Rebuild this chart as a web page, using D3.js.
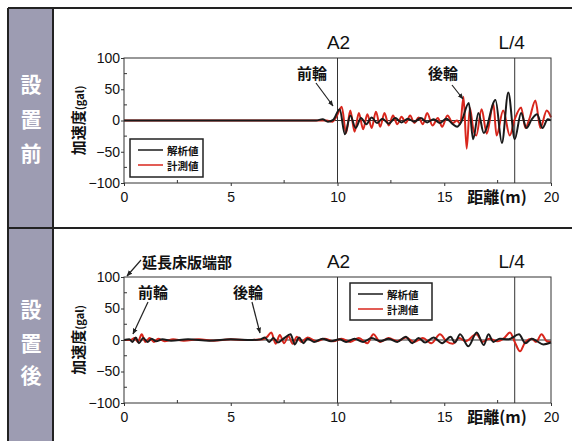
<!DOCTYPE html>
<html>
<head>
<meta charset="utf-8">
<script src="https://cdn.jsdelivr.net/npm/d3@7"></script>
<style>
  body { margin: 0; background: #fff; }
  svg { display: block; }
  .tick text { font-family: "Liberation Sans", Arial, sans-serif; font-size: 14px; fill: #111; }
  .jp { font-family: "Noto Sans CJK JP", sans-serif; font-weight: bold; fill: #111; }
  .lbl { font-family: "Liberation Sans", Arial, sans-serif; fill: #111; }
</style>
</head>
<body>
<svg id="chart" width="572" height="441"></svg>
<script>
// x ticks, y ticks
var xTicks = [0, 5, 10, 15, 20];
var yTicks = [-100, -50, 0, 50, 100];
var markers = [{ x: 10, name: "A2" }, { x: 18.3, name: "L/4" }];
var seriesNames = ["解析値", "計測値"];

// 設置前 : [distance m, accel gal]
var beforeAnalysis = [[0,0],[9.0,0],[9.3,2],[9.55,-2],[9.8,1],[10.1,18],[10.35,-22],[10.6,8],[10.85,-12],[11.1,4],
  [11.35,-6],[11.6,5],[11.85,-4],[12.1,3],[12.4,-5],[12.7,4],[13.0,-3],[13.3,3],[13.6,-2],[13.9,4],[14.2,-3],
  [14.5,2],[14.8,-4],[15.1,3],[15.4,-6],[15.6,-10],[15.8,-2],[16.15,28],[16.35,-30],[16.6,12],[16.85,-20],
  [17.4,33],[17.7,-36],[18.0,45],[18.3,-30],[18.6,12],[18.85,-12],[19.1,2],[19.35,10],[19.6,-12],[19.85,2],[20,0]];
var beforeMeasured = [[0,0],[9.5,0],[9.75,-2],[9.95,6],[10.2,22],[10.4,-20],[10.6,16],[10.8,-18],[11.0,12],[11.2,-14],
  [11.4,10],[11.6,-12],[11.8,14],[12.0,-10],[12.2,12],[12.4,-8],[12.6,8],[12.8,-6],[13.0,6],[13.2,-4],[13.4,8],
  [13.6,-4],[13.8,5],[14.0,-6],[14.2,12],[14.45,-8],[14.7,4],[14.9,-10],[15.15,8],[15.4,-4],[15.6,0],[15.75,-6],
  [15.9,38],[16.05,-45],[16.2,20],[16.36,-14],[16.5,-24],[16.75,18],[16.99,-21],[17.3,27],[17.45,-24],[17.76,16],
  [18.07,-24],[18.3,2],[18.6,21],[18.8,-12],[19.0,4],[19.27,32],[19.5,-12],[19.8,16],[20,5]];

// 設置後
var afterAnalysis = [[0,0],[0.25,1],[0.4,-3],[0.55,4],[0.7,-5],[0.9,3],[1.1,-3],[1.3,2],[1.5,-2],[1.8,1],[2.2,-1],
  [3,1],[4,-1],[5,1],[6,0],[6.4,1],[6.6,4],[6.8,-3],[7.0,3],[7.2,-4],[7.5,3],[7.8,9],[8.0,-7],[8.2,4],[8.4,-5],
  [8.6,2],[8.9,-3],[9.3,2],[9.7,-2],[10.1,1],[10.4,-3],[10.8,2],[11.2,-3],[11.6,3],[12.0,-2],[12.4,2],[12.8,-3],
  [13.2,5],[13.5,-5],[13.8,3],[14.1,-4],[14.5,4],[14.9,-5],[15.3,5],[15.5,-4],[15.74,9],[16.13,-10],[16.52,12],
  [16.85,-8],[17.07,9],[17.3,-3],[17.6,2],[18.0,1],[18.5,9],[18.8,-5],[19.1,2],[19.3,-1],[19.64,-7],[20,-4]];
var afterMeasured = [[0,0],[0.3,0],[0.5,3],[0.65,-3],[0.83,9],[1.0,-3],[1.2,3],[1.4,-3],[1.6,2],[1.9,-2],[2.3,1],
  [2.8,-1],[3.5,1],[4.2,-1],[5,1],[5.8,0],[6.5,1],[6.7,5],[6.9,12],[7.1,-6],[7.3,8],[7.5,-5],[7.7,6],[7.9,-6],
  [8.1,5],[8.3,-3],[8.6,4],[9.0,-2],[9.4,2],[9.8,-2],[10.2,2],[10.6,-3],[11.0,3],[11.4,-5],[11.68,9],[12.0,-3],
  [12.4,3],[12.8,-2],[13.2,4],[13.6,-3],[14.0,3],[14.4,-5],[14.8,9],[15.1,-2],[15.4,-6],[15.7,3],[16.0,-2],
  [16.5,9],[16.8,-3],[17.1,2],[17.5,-2],[17.8,3],[18.08,12],[18.3,-3],[18.55,-18],[18.8,-3],[19.1,2],[19.3,-3],
  [19.56,9],[19.8,-2],[20,-3]];

var svg = d3.select("#chart");
var RED = "#d8261c", BLACK = "#1a1a1a";

// frame and side band
svg.append("rect").attr("x", 8).attr("y", 8).attr("width", 45).attr("height", 440).attr("fill", "#9d9cb2");
svg.append("line").attr("x1", 8).attr("x2", 572).attr("y1", 8).attr("y2", 8).attr("stroke", "#222").attr("stroke-width", 2);
svg.append("line").attr("x1", 8).attr("x2", 572).attr("y1", 228).attr("y2", 228).attr("stroke", "#222").attr("stroke-width", 2);
svg.append("line").attr("x1", 8).attr("x2", 8).attr("y1", 8).attr("y2", 441).attr("stroke", "#222").attr("stroke-width", 2);
svg.append("line").attr("x1", 53).attr("x2", 53).attr("y1", 8).attr("y2", 441).attr("stroke", "#222").attr("stroke-width", 2);

function sideLabel(chars, ys) {
  chars.forEach(function(c, i) {
    svg.append("text").attr("class", "jp").attr("x", 31).attr("y", ys[i])
      .attr("text-anchor", "middle").attr("dominant-baseline", "central")
      .style("font-size", "21px").style("fill", "#fff").text(c);
  });
}
sideLabel(["設", "置", "前"], [83, 118, 152]);
sideLabel(["設", "置", "後"], [308, 342, 374]);

var arrow = svg.append("defs").append("marker").attr("id", "arr").attr("viewBox", "0 0 10 10")
  .attr("refX", 9).attr("refY", 5).attr("markerWidth", 5).attr("markerHeight", 5).attr("orient", "auto");
arrow.append("path").attr("d", "M0,1 L10,5 L0,9 Z").attr("fill", "#222");

function drawPanel(p) {
  var x = d3.scaleLinear().domain([0, 20]).range([124, 551]);
  var y = d3.scaleLinear().domain([-100, 100]).range([p.bottom, p.top]);
  var g = svg.append("g");

  // minor ticks (inside)
  d3.range(2.5, 20, 5).forEach(function(v) {
    g.append("line").attr("x1", x(v)).attr("x2", x(v)).attr("y1", p.bottom).attr("y2", p.bottom - 3).attr("stroke", "#333");
  });
  d3.range(-75, 100, 50).forEach(function(v) {
    g.append("line").attr("x1", 124).attr("x2", 127).attr("y1", y(v)).attr("y2", y(v)).attr("stroke", "#333");
  });

  g.append("g").attr("transform", "translate(0," + p.bottom + ")")
    .call(d3.axisBottom(x).tickValues(xTicks).tickSize(3).tickPadding(6))
    .call(function(a) { a.select(".domain").remove(); a.selectAll("line").attr("stroke", "#333"); });
  g.append("g").attr("transform", "translate(124,0)")
    .call(d3.axisLeft(y).tickValues(yTicks).tickSize(3).tickPadding(1).tickFormat(function(d) { return d < 0 ? "\u2212" + (-d) : d; }))
    .call(function(a) { a.select(".domain").remove(); a.selectAll("line").attr("stroke", "#333"); });

  // zero line and markers
  g.append("line").attr("x1", x(0)).attr("x2", x(20)).attr("y1", y(0)).attr("y2", y(0)).attr("stroke", "#333").attr("stroke-width", 1);
  markers.forEach(function(m) {
    g.append("line").attr("x1", x(m.x)).attr("x2", x(m.x)).attr("y1", y(-100)).attr("y2", y(100)).attr("stroke", "#333").attr("stroke-width", 1);
    g.append("text").attr("class", "lbl").attr("x", x(m.x) + (m.name === "A2" ? 1 : -3)).attr("y", p.top - 9)
      .attr("text-anchor", "middle").style("font-size", "19px").text(m.name);
  });

  var line = d3.line().x(function(d) { return x(d[0]); }).y(function(d) { return y(d[1]); }).curve(d3.curveMonotoneX);
  g.append("path").datum(p.measured).attr("d", line).attr("fill", "none").attr("stroke", RED).attr("stroke-width", 2);
  g.append("path").datum(p.analysis).attr("d", line).attr("fill", "none").attr("stroke", BLACK).attr("stroke-width", 2);

  // plot box
  g.append("rect").attr("x", 124).attr("y", p.top).attr("width", 427).attr("height", p.bottom - p.top)
    .attr("fill", "none").attr("stroke", "#333").attr("stroke-width", 1);

  // axis titles
  g.append("text").attr("class", "jp").attr("x", 497).attr("y", p.bottom + 20)
    .attr("text-anchor", "middle").style("font-size", "16px").text("距離(m)");
  var yl = g.append("text").attr("class", "jp")
    .attr("transform", "translate(84," + (p.top + p.bottom) / 2 + ") rotate(-90)")
    .attr("text-anchor", "middle").style("font-size", "15px");
  yl.append("tspan").text("加速度");
  yl.append("tspan").style("font-size", "11px").text("(gal)");

  // legend
  var L = p.legend;
  g.append("rect").attr("x", L.x).attr("y", L.y).attr("width", L.w).attr("height", L.h)
    .attr("fill", "#fff").attr("stroke", "#222").attr("stroke-width", 1.5);
  [BLACK, RED].forEach(function(c, i) {
    var ly = L.y + 11 + i * 15;
    g.append("line").attr("x1", L.x + 8).attr("x2", L.x + 33).attr("y1", ly).attr("y2", ly).attr("stroke", c).attr("stroke-width", 1.5);
    g.append("text").attr("class", "jp").attr("x", L.x + 37).attr("y", ly).attr("dominant-baseline", "central")
      .style("font-size", "10.5px").text(seriesNames[i]);
  });

  // annotations
  p.notes.forEach(function(n) {
    g.append("text").attr("class", "jp").attr("x", n.tx).attr("y", n.ty).attr("text-anchor", n.anchor || "middle")
      .attr("dominant-baseline", "central").style("font-size", "15px").text(n.text);
    g.append("line").attr("x1", n.x1).attr("y1", n.y1).attr("x2", n.x2).attr("y2", n.y2)
      .attr("stroke", "#222").attr("stroke-width", 1.2).attr("marker-end", "url(#arr)");
  });
}

drawPanel({
  top: 58, bottom: 183, analysis: beforeAnalysis, measured: beforeMeasured,
  legend: { x: 130, y: 139, w: 73, h: 38 },
  notes: [
    { text: "前輪", tx: 312, ty: 72, x1: 316, y1: 83, x2: 333, y2: 106 },
    { text: "後輪", tx: 443, ty: 72, x1: 452, y1: 85, x2: 463, y2: 99 }
  ]
});
drawPanel({
  top: 277, bottom: 403, analysis: afterAnalysis, measured: afterMeasured,
  legend: { x: 350, y: 283, w: 82, h: 37 },
  notes: [
    { text: "延長床版端部", tx: 142, ty: 261, anchor: "start", x1: 141, y1: 260, x2: 127, y2: 276 },
    { text: "前輪", tx: 153, ty: 291, x1: 148, y1: 302, x2: 133, y2: 334 },
    { text: "後輪", tx: 248, ty: 291, x1: 252, y1: 302, x2: 260, y2: 333 }
  ]
});
</script>
</body>
</html>
